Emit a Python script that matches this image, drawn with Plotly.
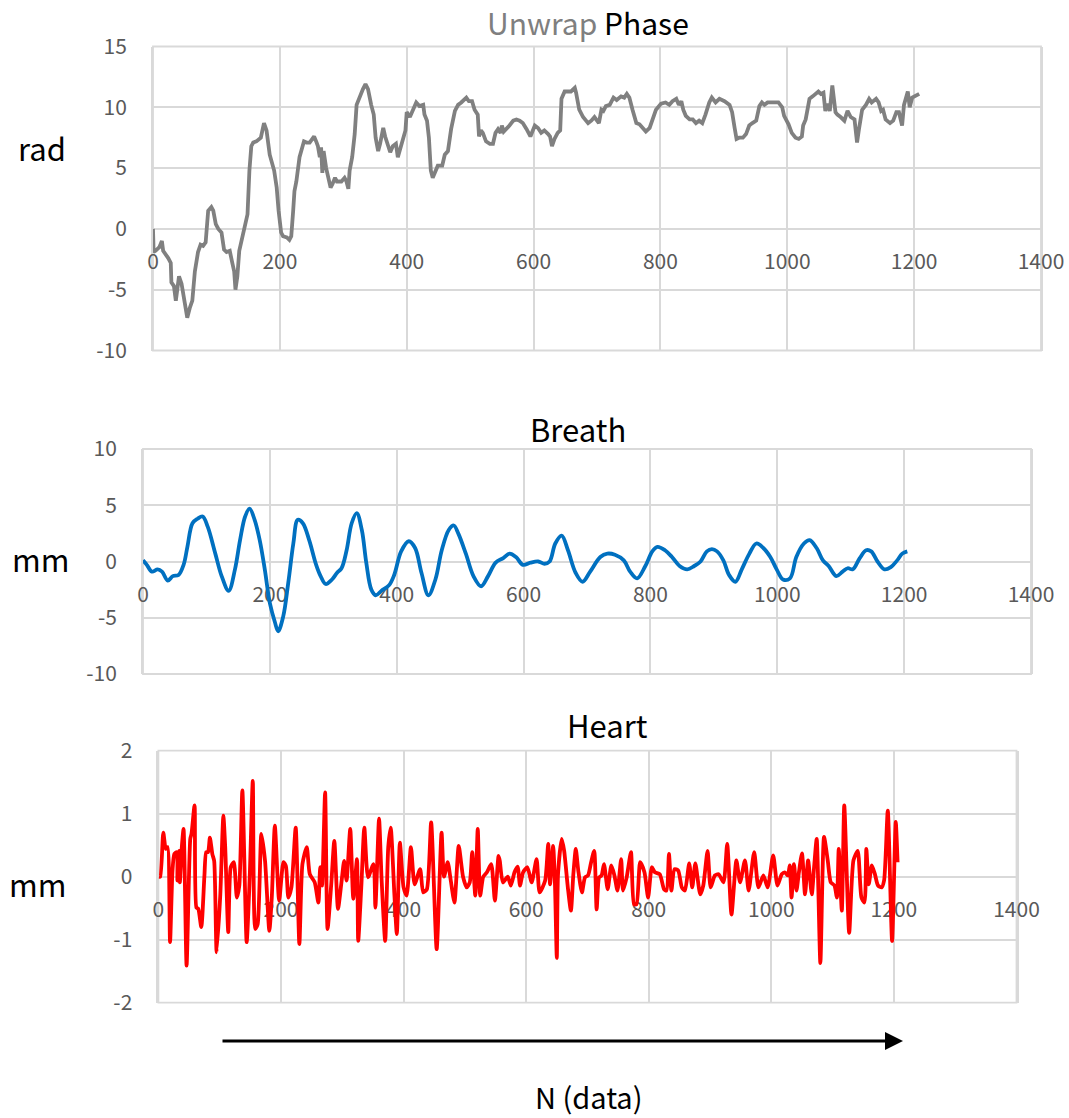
import plotly.graph_objects as go

# ---- data -------------------------------------------------------------
x_ticks = [0, 200, 400, 600, 800, 1000, 1200, 1400]
x_tick_text = ["0", "200", "400", "600", "800", "1000", "1200", "1400"]

phase_ticks = [-10, -5, 0, 5, 10, 15]
phase_tick_text = ["-10", "-5", "0", "5", "10", "15"]
breath_ticks = [-10, -5, 0, 5, 10]
breath_tick_text = ["-10", "-5", "0", "5", "10"]
heart_ticks = [-2, -1, 0, 1, 2]
heart_tick_text = ["-2", "-1", "0", "1", "2"]

phase_n = [0, 1, 4, 10, 14, 16, 24, 28, 29, 33, 36, 41, 45, 49, 54, 58, 62, 66, 71, 75,
           79, 83, 87, 92, 95, 99, 103, 108, 112, 116, 121, 125, 128, 130, 133, 136, 140, 145, 149, 152,
           155, 158, 163, 170, 173, 175, 179, 184, 191, 195, 198, 202, 205, 211, 215, 218, 221, 223, 226, 231,
           238, 242, 247, 254, 258, 260, 263, 265, 267, 269, 273, 276, 280, 283, 287, 290, 297, 302, 305, 308,
           310, 314, 318, 321, 326, 331, 335, 339, 344, 348, 351, 355, 358, 363, 366, 371, 374, 378, 383, 386,
           390, 394, 398, 400, 405, 410, 415, 420, 426, 428, 432, 435, 438, 441, 446, 449, 456, 460, 465, 470,
           476, 481, 486, 494, 498, 503, 507, 512, 514, 517, 520, 525, 531, 536, 540, 544, 548, 550, 553, 557,
           562, 568, 573, 578, 583, 589, 595, 602, 607, 612, 617, 623, 626, 629, 633, 638, 642, 644, 649, 654,
           659, 665, 667, 672, 678, 686, 691, 696, 703, 707, 710, 714, 720, 726, 731, 738, 743, 747, 751, 756,
           762, 767, 772, 777, 783, 788, 793, 801, 808, 814, 819, 825, 829, 833, 836, 840, 846, 851, 856, 861,
           866, 871, 877, 881, 887, 893, 901, 909, 913, 917, 920, 924, 930, 935, 940, 945, 951, 956, 960, 964,
           969, 977, 986, 992, 995, 1002, 1007, 1013, 1018, 1023, 1025, 1029, 1035, 1040, 1044, 1049, 1053, 1057, 1060, 1063,
           1067, 1071, 1076, 1079, 1084, 1090, 1095, 1100, 1106, 1110, 1113, 1118, 1124, 1129, 1133, 1140, 1144, 1148, 1151, 1155,
           1162, 1167, 1172, 1176, 1181, 1184, 1190, 1193, 1197, 1203, 1208]
phase_rad = [0.0, -1.9, -1.8, -1.5, -1.0, -1.8, -2.4, -2.8, -4.4, -4.7, -5.9, -3.9, -4.5, -5.9, -7.3, -6.5, -5.9, -3.5, -1.9, -1.3,
             -1.4, -1.1, 1.5, 1.8, 1.5, 0.4, 0.0, -0.3, -1.7, -1.9, -1.8, -2.8, -3.5, -5.0, -3.9, -1.8, -0.85, 0.1, 1.2, 4.8,
             6.8, 7.1, 7.2, 7.5, 8.2, 8.7, 8.1, 6.1, 4.8, 3.4, 1.5, -0.3, -0.6, -0.7, -0.9, -0.6, 1.5, 3.1, 3.9, 5.9,
             7.2, 7.1, 7.1, 7.6, 7.1, 6.8, 5.9, 6.7, 4.6, 6.4, 5.0, 4.2, 3.4, 3.7, 4.2, 3.9, 3.9, 4.2, 3.9, 3.3,
             4.8, 5.9, 7.8, 10.2, 10.9, 11.5, 11.9, 11.5, 10.2, 9.4, 7.5, 6.4, 7.0, 8.3, 7.6, 6.7, 6.3, 6.8, 7.0, 5.9,
             6.7, 7.6, 8.1, 9.6, 9.2, 9.8, 10.4, 10.1, 10.2, 9.4, 8.9, 7.5, 4.8, 4.2, 4.8, 5.2, 5.2, 6.1, 6.4, 8.2,
             9.7, 10.2, 10.4, 10.8, 10.5, 10.5, 9.8, 9.4, 7.6, 8.1, 7.9, 7.2, 7.0, 7.0, 7.9, 8.2, 7.9, 8.5, 8.0, 8.2,
             8.5, 8.9, 9.0, 8.9, 8.7, 8.2, 7.6, 8.5, 8.3, 7.9, 8.1, 7.8, 7.6, 6.8, 7.4, 7.9, 8.1, 10.7, 11.3, 11.3,
             11.3, 11.6, 11.2, 9.8, 9.2, 8.7, 8.9, 9.2, 8.7, 9.8, 9.7, 10.1, 10.2, 10.8, 10.6, 10.9, 10.8, 11.1, 10.8, 9.8,
             8.7, 8.6, 8.3, 8.0, 8.3, 9.0, 9.8, 10.3, 10.4, 10.2, 10.5, 10.7, 10.2, 10.5, 9.8, 9.3, 9.0, 9.0, 8.7, 8.9,
             8.7, 9.4, 10.4, 10.8, 10.4, 10.7, 10.5, 10.2, 9.6, 8.3, 7.4, 7.5, 7.5, 7.8, 8.5, 8.7, 8.9, 10.1, 10.4, 10.2,
             10.4, 10.4, 10.4, 10.0, 9.3, 8.6, 7.9, 7.5, 7.4, 7.6, 8.5, 9.0, 10.7, 10.9, 11.1, 11.3, 11.1, 11.2, 9.7, 10.3,
             9.7, 11.8, 9.6, 9.4, 9.2, 8.9, 9.7, 9.2, 9.0, 7.1, 8.2, 9.8, 10.2, 10.7, 10.4, 10.7, 10.4, 9.7, 9.8, 9.0,
             8.7, 8.9, 9.6, 9.6, 8.5, 10.2, 11.3, 10.0, 10.8, 11.0, 11.1]

breath_n = [0, 6, 14, 23, 30, 39, 47, 56, 64, 70, 78, 86, 94, 102, 114, 124, 135, 145, 153, 161,
            168, 176, 184, 192, 200, 208, 213, 221, 229, 237, 244, 252, 262, 273, 280, 288, 298, 306, 313, 321,
            329, 337, 345, 352, 360, 367, 376, 388, 396, 407, 419, 429, 439, 450, 461, 471, 482, 490, 497, 509,
            521, 533, 544, 556, 568, 578, 588, 599, 611, 623, 633, 641, 650, 660, 670, 682, 693, 705, 721, 732,
            744, 758, 768, 779, 792, 803, 811, 823, 834, 846, 858, 869, 879, 889, 897, 905, 915, 924, 934, 944,
            956, 967, 978, 989, 999, 1009, 1020, 1030, 1042, 1051, 1062, 1072, 1081, 1093, 1103, 1111, 1119, 1130, 1140, 1148,
            1158, 1169, 1179, 1189, 1197, 1205]
breath_mm = [0.1, -0.3, -0.9, -0.7, -0.9, -1.7, -1.3, -1.2, -0.3, 1.3, 3.4, 3.8, 4.0, 3.1, 0.7, -1.3, -2.6, -0.7, 1.9, 4.0,
             4.7, 3.7, 1.9, -0.7, -3.7, -5.4, -6.2, -4.9, -1.9, 1.6, 3.7, 3.4, 1.9, -0.3, -1.3, -2.0, -1.6, -1.0, -0.6, 1.0,
             3.4, 4.3, 2.8, -0.1, -2.5, -3.0, -2.6, -2.1, -1.2, 0.9, 1.8, 1.2, -1.0, -3.0, -1.6, 1.0, 2.8, 3.2, 2.5, 0.7,
             -1.3, -2.2, -1.3, -0.1, 0.3, 0.7, 0.4, -0.3, -0.1, 0.0, -0.2, 0.0, 1.6, 2.3, 1.0, -1.0, -1.8, -0.9, 0.4, 0.7,
             0.6, 0.1, -0.9, -1.5, -0.4, 0.9, 1.3, 1.0, 0.4, -0.4, -0.7, -0.4, 0.0, 0.9, 1.1, 0.9, 0.1, -1.2, -1.8, -0.7,
             0.7, 1.6, 1.2, 0.4, -0.7, -1.6, -1.5, 0.4, 1.6, 1.9, 1.2, 0.1, -0.4, -1.3, -0.9, -0.6, -0.7, 0.3, 1.0, 0.9,
             0.0, -0.7, -0.5, 0.1, 0.7, 0.9]

heart_n = [1, 3, 8, 12, 15, 19, 23, 26, 30, 31, 34, 35, 38, 41, 46, 52, 54, 59, 62, 65,
           70, 75, 78, 81, 84, 88, 91, 95, 101, 106, 109, 114, 118, 123, 128, 132, 137, 144, 149, 154,
           158, 162, 168, 174, 181, 185, 190, 197, 204, 208, 212, 217, 224, 230, 235, 242, 247, 255, 261, 264,
           267, 272, 276, 282, 287, 293, 299, 303, 307, 313, 318, 324, 326, 331, 336, 342, 351, 354, 360, 364,
           370, 375, 379, 385, 389, 394, 400, 405, 412, 418, 427, 432, 438, 445, 454, 462, 466, 472, 477, 483,
           490, 497, 503, 508, 512, 517, 521, 525, 530, 536, 543, 549, 555, 557, 562, 570, 575, 581, 586, 590,
           595, 602, 609, 617, 622, 631, 636, 639, 644, 647, 650, 652, 658, 662, 668, 673, 677, 681, 685, 691,
           696, 701, 706, 711, 715, 719, 723, 727, 733, 739, 744, 749, 755, 758, 764, 771, 776, 780, 786, 793,
           799, 805, 810, 818, 825, 829, 833, 837, 842, 848, 854, 859, 866, 871, 876, 884, 889, 896, 901, 908,
           914, 922, 928, 935, 943, 949, 957, 963, 972, 979, 987, 994, 1003, 1010, 1017, 1022, 1027, 1030, 1033, 1037,
           1041, 1045, 1050, 1055, 1060, 1066, 1070, 1074, 1080, 1086, 1092, 1097, 1103, 1107, 1110, 1115, 1119, 1127, 1134, 1141,
           1147, 1152, 1155, 1159, 1164, 1169, 1174, 1180, 1184, 1190, 1197, 1203, 1206]
heart_mm = [0.0, 0.0, 0.7, 0.44, 0.47, -1.04, 0.1, 0.36, 0.39, -0.06, 0.41, -0.09, 0.44, 0.76, -1.41, 0.6, 0.68, 1.13, -0.49, -0.51,
            -0.8, 0.0, 0.39, 0.39, 0.62, 0.36, 0.25, -1.2, -0.28, 0.97, 0.47, -0.88, 0.15, 0.23, -0.33, -0.14, 1.37, -1.04, 0.0, 1.52,
            -0.83, -0.75, 0.68, 0.25, -0.86, -0.33, 0.81, -0.38, 0.23, 0.17, -0.33, -0.17, 0.78, -1.07, 0.2, 0.47, 0.04, -0.09, -0.41, 0.15,
            -0.14, 1.34, -0.83, -0.12, 0.57, -0.51, -0.06, 0.25, -0.06, 0.76, -0.35, 0.28, -1.02, -0.17, 0.78, -0.01, 0.2, -0.49, 0.92, -0.01,
            -1.02, 0.47, 0.78, -0.28, -0.91, 0.54, -0.17, -0.3, 0.47, -0.12, 0.12, -0.25, -0.2, 0.86, -1.15, 0.7, 0.0, 0.23, -0.06, -0.41,
            0.49, 0.0, -0.17, -0.09, 0.39, -0.3, 0.76, -0.3, 0.0, 0.07, 0.2, -0.38, 0.33, 0.25, -0.09, 0.0, -0.14, 0.07, 0.16, -0.14,
            0.07, 0.15, -0.09, 0.28, -0.25, -0.06, 0.52, -0.12, 0.49, -0.12, -1.29, 0.04, 0.6, 0.41, -0.17, -0.54, 0.04, 0.44, 0.1, -0.25,
            -0.01, 0.02, 0.23, 0.41, -0.52, -0.01, 0.02, 0.2, -0.2, 0.18, 0.02, -0.22, 0.28, -0.22, -0.01, 0.39, -0.44, -0.44, 0.23, 0.07,
            -0.33, 0.15, 0.07, 0.04, -0.2, -0.22, 0.36, -0.22, 0.12, 0.1, -0.17, -0.22, 0.21, -0.17, 0.21, -0.28, -0.14, 0.41, -0.17, 0.02,
            0.04, -0.09, 0.52, -0.6, 0.26, -0.09, 0.26, -0.22, 0.39, -0.17, 0.02, -0.17, 0.34, -0.14, 0.04, 0.07, 0.02, 0.18, -0.33, 0.2,
            -0.22, 0.07, 0.37, -0.28, 0.26, -0.28, 0.18, 0.6, -1.37, 0.63, 0.26, -0.09, -0.14, -0.33, 0.44, -0.54, 1.13, -0.89, 0.26, 0.41,
            -0.33, -0.41, 0.44, -0.12, 0.18, 0.04, -0.14, -0.17, -0.06, 1.05, -1.02, 0.87, 0.23]

# ---- layout geometry (pixels in a 1069 x 1118 page) --------------------
W, H = 1069, 1118
FONT = "Noto Sans CJK JP"
GRID = "#d9d9d9"
TICK_COLOR = "#595959"


def px_x(p):
    return p / W


def px_y(p):
    return 1 - p / H


panels = [
    # (x-left, x-right, y-top, y-bottom) in pixels, y range
    dict(box=(153, 1041, 46.5, 350.5), yr=(-10, 15), yt=phase_ticks, ytt=phase_tick_text),
    dict(box=(143, 1031, 449, 674), yr=(-10, 10), yt=breath_ticks, ytt=breath_tick_text),
    dict(box=(158.4, 1016.5, 750.7, 1002.7), yr=(-2, 2), yt=heart_ticks, ytt=heart_tick_text),
]

fig = go.Figure()

series = [
    (phase_n, phase_rad, "#808080", "linear", None),
    (breath_n, breath_mm, "#0070C0", "spline", 1.0),
    (heart_n, heart_mm, "#FF0000", "spline", 0.6),
]

for i, (xs, ys, color, shape, smooth) in enumerate(series):
    suffix = "" if i == 0 else str(i + 1)
    line = dict(color=color, width=3.8, shape=shape)
    if smooth is not None:
        line["smoothing"] = smooth
    fig.add_trace(go.Scatter(x=xs, y=ys, mode="lines", line=line,
                             xaxis="x" + suffix, yaxis="y" + suffix,
                             showlegend=False, hoverinfo="skip"))

layout_axes = {}
shapes = []
for i, p in enumerate(panels):
    suffix = "" if i == 0 else str(i + 1)
    xl, xr, yt, yb = p["box"]
    y0, y1 = px_y(yb), px_y(yt)
    lo, hi = p["yr"]
    zero_pos = y0 + (0 - lo) / (hi - lo) * (y1 - y0)
    layout_axes["xaxis" + suffix] = dict(
        domain=[px_x(xl), px_x(xr)], range=[0, 1400],
        anchor="free", position=zero_pos, automargin=False,
        tickvals=x_ticks, ticktext=x_tick_text,
        showgrid=True, gridcolor=GRID, gridwidth=1.8,
        showline=True, linecolor=GRID, linewidth=1.8,
        zeroline=False, ticks="", ticklabelstandoff=14,
        tickfont=dict(family=FONT, size=21, color=TICK_COLOR),
        layer="below traces", fixedrange=True,
    )
    layout_axes["yaxis" + suffix] = dict(
        domain=[y0, y1], range=[lo, hi],
        anchor="x" + suffix, automargin=False,
        tickvals=p["yt"], ticktext=p["ytt"],
        showgrid=True, gridcolor=GRID, gridwidth=1.8,
        showline=True, linecolor=GRID, linewidth=1.8, mirror=True,
        zeroline=False, ticks="", ticklabelstandoff=20,
        tickfont=dict(family=FONT, size=21, color=TICK_COLOR),
        layer="below traces", fixedrange=True,
    )
    # plot-area frame
    shapes.append(dict(
        type="rect", xref="x" + suffix + " domain", yref="y" + suffix + " domain",
        x0=0, x1=1, y0=0, y1=1, line=dict(color=GRID, width=1.8), layer="below",
    ))

annotations = [
    dict(text="<span style='color:#7f7f7f'>Unwrap</span> Phase", x=px_x(588), y=px_y(22),
         font=dict(size=30, color="#000000")),
    dict(text="Breath", x=px_x(578), y=px_y(428), font=dict(size=31, color="#000000")),
    dict(text="Heart", x=px_x(607), y=px_y(724), font=dict(size=31, color="#000000")),
    dict(text="rad", x=px_x(42), y=px_y(148), font=dict(size=31, color="#000000")),
    dict(text="mm", x=px_x(40), y=px_y(558), font=dict(size=31, color="#000000")),
    dict(text="mm", x=px_x(37), y=px_y(883), font=dict(size=31, color="#000000")),
    dict(text="N (data)", x=px_x(589), y=px_y(1096), font=dict(size=29, color="#000000")),
]
for a in annotations:
    a.update(xref="paper", yref="paper", showarrow=False, xanchor="center", yanchor="middle",
             borderpad=0)
    a["font"]["family"] = FONT

# direction arrow under the heart panel (tail given in pixels from the head)
annotations.append(dict(
    x=px_x(903), y=px_y(1041), ax=221 - 903, ay=0,
    xref="paper", yref="paper", axref="pixel", ayref="pixel",
    text="", showarrow=True, arrowhead=2, arrowsize=1.2, arrowwidth=3, arrowcolor="#000000",
))

fig.update_layout(
    width=W, height=H,
    margin=dict(l=0, r=0, t=0, b=0),
    paper_bgcolor="#ffffff", plot_bgcolor="#ffffff",
    showlegend=False,
    annotations=annotations,
    shapes=shapes,
    **layout_axes,
)

fig.write_html("out.html", config={"displayModeBar": False})
